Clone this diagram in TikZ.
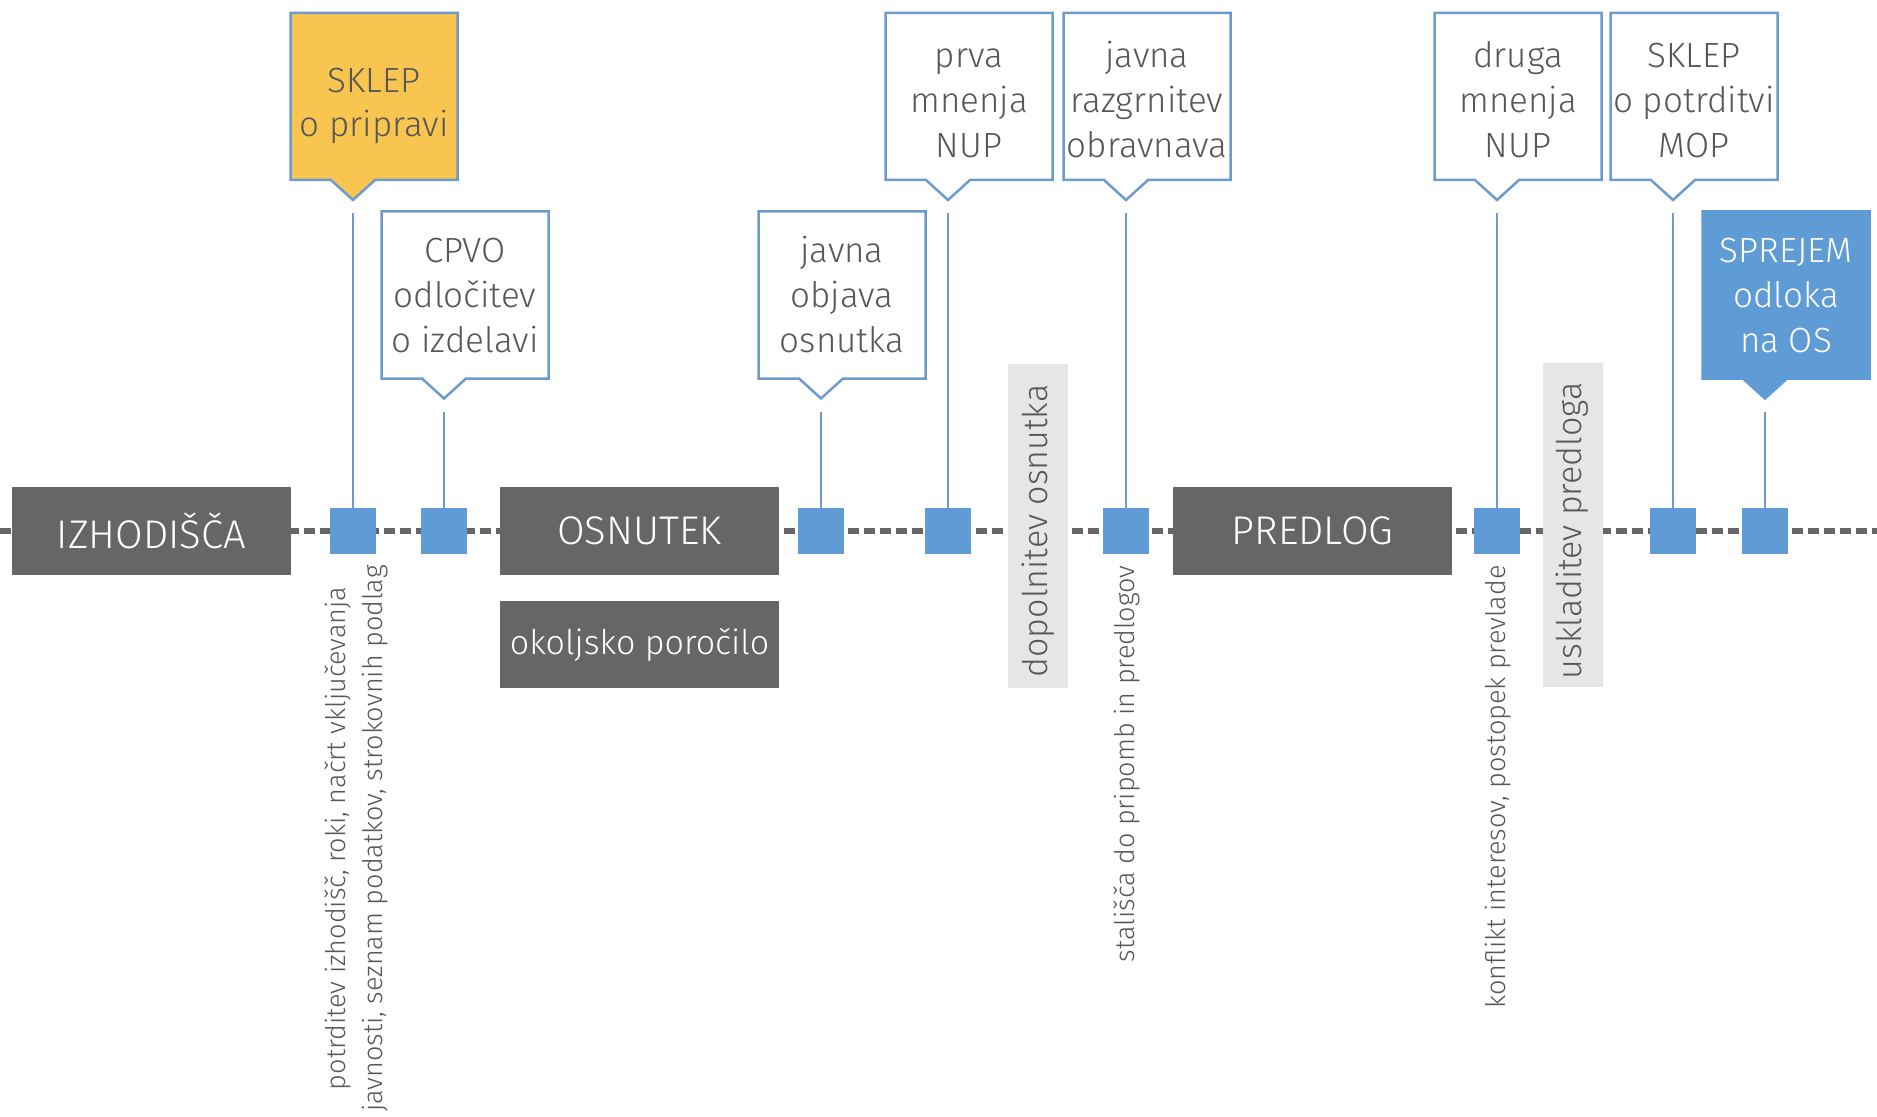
\documentclass[tikz,border=0pt]{standalone}
\usepackage{fontspec}
\setmainfont{Fira Sans}[UprightFont={* Light}]
\usetikzlibrary{calc}
\definecolor{dgray}{HTML}{666666}
\definecolor{lgray}{HTML}{E6E6E6}
\definecolor{txtgray}{HTML}{575757}
\definecolor{blu}{HTML}{5F9BD5}
\definecolor{outl}{HTML}{6D9CCC}
\definecolor{yel}{HTML}{F8C650}
\newcommand{\mkcallout}[6]{%
  \coordinate (#1-c) at (#2,#3);
  \path[#4] ($(#1-c)+(-83.5,-83.5)$) -- ($(#1-c)+(83.5,-83.5)$) -- ($(#1-c)+(83.5,83.5)$) -- ($(#1-c)+(1,83.5)$) -- ($(#1-c)+(-21,103.5)$) -- ($(#1-c)+(-43,83.5)$) -- ($(#1-c)+(-83.5,83.5)$) -- cycle;
  \node[callouttext, #5] (#1) at (#1-c) {\strut #6\strut};
  \coordinate (#1-tip) at ($(#1-c)+(-21,103.5)$);
}
\tikzset{
  callouttext/.style={inner sep=0pt, align=center, text=txtgray, font=\fontsize{17.5}{22.4}\selectfont},
  cwhite/.style={fill=white, draw=outl, line width=1.25pt},
  cyellow/.style={fill=yel, draw=outl, line width=1.25pt},
  cblue/.style={fill=blu, draw=blu, line width=1.25pt},
  toprow/.style={yshift=-3.5pt},
  lowrow/.style={yshift=-1.8pt},
  phasebox/.style={fill=dgray, text=white, minimum width=139.5pt, minimum height=44pt, inner sep=0pt, font=\fontsize{20}{22}\selectfont},
  subbox/.style={fill=dgray, text=white, minimum width=139.5pt, minimum height=43.5pt, inner sep=0pt, font=\fontsize{17}{20}\selectfont},
  marker/.style={fill=blu, minimum size=23pt, inner sep=0pt},
  conn/.style={draw=outl, line width=1.25pt},
  timeline/.style={draw=dgray, line width=3pt, dash pattern=on 5.5pt off 2.5pt},
  note/.style={rotate=90, anchor=east, inner sep=0pt, align=center, text=txtgray, font=\fontsize{13.5}{18.5}\selectfont},
  sidebox/.style={fill=lgray, rotate=90, minimum width=162pt, minimum height=30pt, inner sep=0pt},
  sidetext/.style={rotate=90, text=txtgray, inner sep=0pt, font=\fontsize{17}{20}\selectfont},
}
\begin{document}
\begin{tikzpicture}[x=0.5pt, y=-0.5pt]
\useasboundingbox[fill=white] (0,0) rectangle (1877,1117);
% timeline
\coordinate (tl-start) at (0,531);
\coordinate (tl-end) at (1877,531);
\draw[timeline] (tl-start) -- (tl-end);
% side boxes
\node[sidebox] (g1) at (1038,525.5) {};
\node[sidetext] (g1t) at (1038,531) {dopolnitev osnutka};
\node[sidebox] (g2) at (1572.5,524.5) {};
\node[sidetext] (g2t) at (1572.5,531) {uskladitev predloga};
% phase boxes
\node[phasebox] (izh) at (151.5,531) {IZHODIŠČA};
\node[phasebox] (osn) at (639.5,531) {OSNUTEK};
\node[subbox] (oko) at (639.5,644.5) {okoljsko poročilo};
\node[phasebox] (pre) at (1312.5,531) {PREDLOG};
% markers
\node[marker] (s1) at (353,531) {};
\node[marker] (s2) at (444,531) {};
\node[marker] (s3) at (821,531) {};
\node[marker] (s4) at (948,531) {};
\node[marker] (s5) at (1126,531) {};
\node[marker] (s6) at (1497,531) {};
\node[marker] (s7) at (1673,531) {};
\node[marker] (s8) at (1765,531) {};
% callouts
\mkcallout{c1}{374}{96.5}{cyellow}{yshift=-4.5pt}{SKLEP\\o pripravi}
\mkcallout{c2}{465}{295}{cwhite}{lowrow}{CPVO\\odločitev\\o izdelavi}
\mkcallout{c3}{842}{295}{cwhite}{lowrow}{javna\\objava\\osnutka}
\mkcallout{c4}{969}{96.5}{cwhite}{toprow}{prva\\mnenja\\NUP}
\mkcallout{c5}{1147}{96.5}{cwhite}{toprow}{javna\\razgrnitev\\obravnava}
\mkcallout{c6}{1518}{96.5}{cwhite}{toprow}{druga\\mnenja\\NUP}
\mkcallout{c7}{1694}{96.5}{cwhite}{toprow}{SKLEP\\o potrditvi\\MOP}
\mkcallout{c8}{1786}{295}{cblue}{lowrow, text=white}{SPREJEM\\odloka\\na OS}
% connectors
\foreach \i in {1,...,8} {
  \draw[conn] ([yshift=-6.5pt]c\i-tip) -- (s\i.north);
}
% notes
\node[note] (n1) at (356,565) {potrditev izhodišč, roki, načrt vključevanja\\javnosti, seznam podatkov, strokovnih podlag};
\node[note] (n2) at (1127,565) {stališča do pripomb in predlogov};
\node[note] (n3) at (1498,565) {konflikt interesov, postopek prevlade};
\end{tikzpicture}
\end{document}
